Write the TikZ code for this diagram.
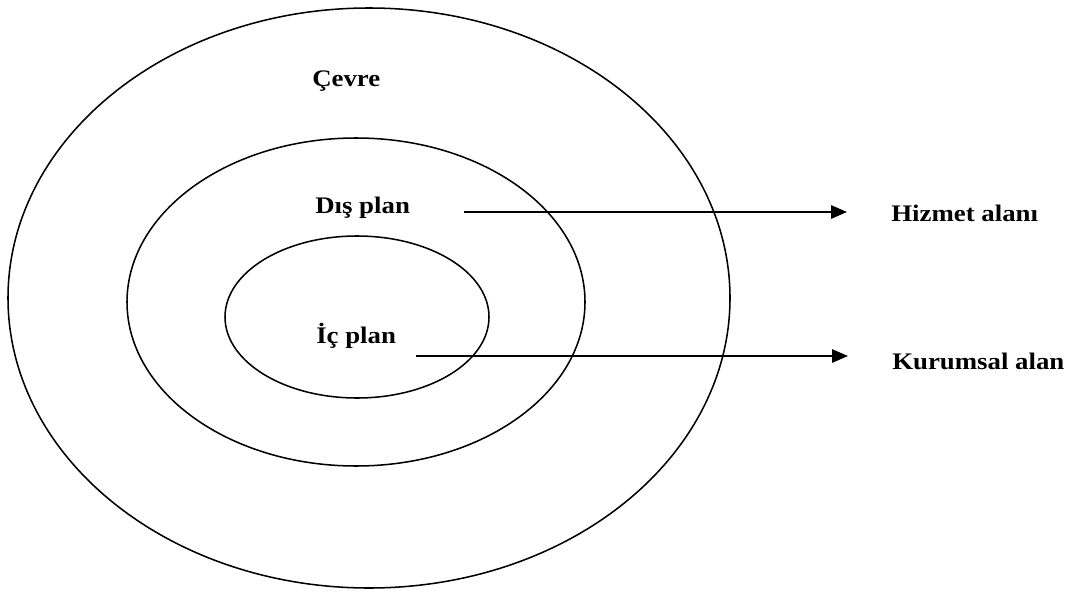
\documentclass[tikz,border=0pt]{standalone}
\usepackage{graphicx}
\usepackage{fontspec}
\setmainfont{Liberation Serif}
\usetikzlibrary{arrows.meta}
\newcommand\widelabel[1]{\scalebox{1.13}[1]{\bfseries #1}}
\begin{document}
\begin{tikzpicture}[x=0.75pt,y=-0.75pt,
  ring/.style={line width=1.15pt},
  flow/.style={line width=1.5pt,-{Triangle[length=12pt,width=10pt]},shorten >=33pt},
  lbl/.style={inner sep=0pt,anchor=base west,font=\fontsize{17.8}{20}\selectfont}]
\useasboundingbox (0,0) rectangle (1074,592);
% three nested areas
\draw[ring] (369,298) ellipse [x radius=270.75pt, y radius=217.5pt];
\draw[ring] (356,302) ellipse [x radius=171.75pt, y radius=123pt];
\draw[ring] (357,317) ellipse [x radius=99pt, y radius=60.75pt];
% labels
\node[lbl] (cevre) at (312,87) {\widelabel{Çevre}};
\node[lbl] (dis) at (315,213) {\widelabel{Dış plan}};
\node[lbl] (ic) at (316,343) {\widelabel{İç plan}};
\node[lbl] (hizmet) at (891,221) {\widelabel{Hizmet alanı}};
\node[lbl] (kurum) at (892,369) {\widelabel{Kurumsal alan}};
% outgoing arrows
\coordinate (s1) at (464,212);
\coordinate (s2) at (416,356);
\draw[flow] (s1) -- (s1 -| hizmet.west);
\draw[flow] (s2) -- (s2 -| kurum.west);
\end{tikzpicture}
\end{document}
